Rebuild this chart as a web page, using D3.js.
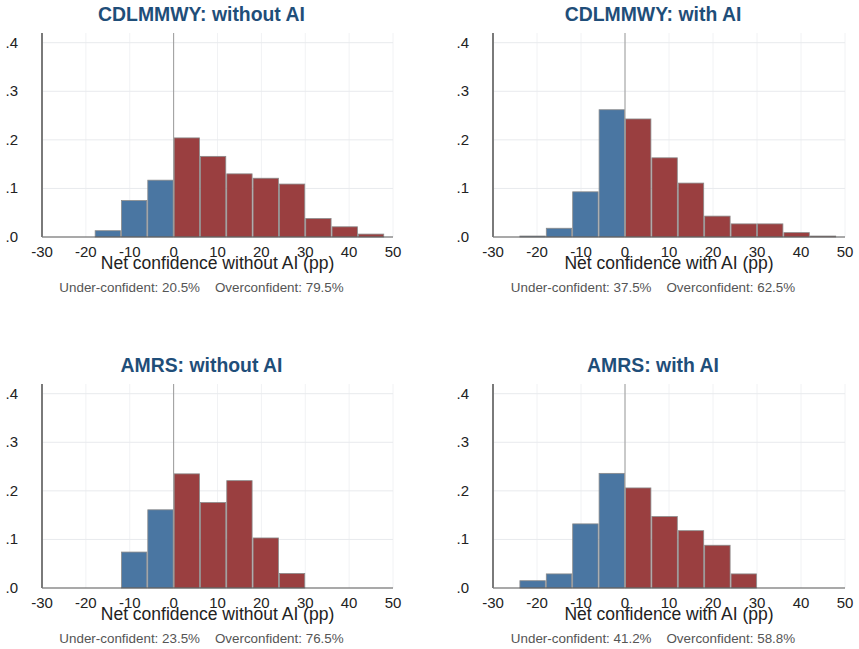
<!DOCTYPE html>
<html>
<head>
<meta charset="utf-8">
<script src="https://cdn.jsdelivr.net/npm/d3@7"></script>
<style>
  body { margin: 0; background: #fff; }
  svg { display: block; font-family: "Liberation Sans", Arial, sans-serif; }
</style>
</head>
<body>
<svg id="chart" width="859" height="649"></svg>
<script>
// bin edges shared by all panels (6 pp wide)
var binStart = [-30, -24, -18, -12, -6, 0, 6, 12, 18, 24, 30, 36, 42];
var binWidth = 6;

var titles = ["CDLMMWY: without AI", "CDLMMWY: with AI", "AMRS: without AI", "AMRS: with AI"];
var xTitles = ["Net confidence without AI (pp)", "Net confidence with AI (pp)",
               "Net confidence without AI (pp)", "Net confidence with AI (pp)"];
var notes = ["Under-confident: 20.5%    Overconfident: 79.5%",
             "Under-confident: 37.5%    Overconfident: 62.5%",
             "Under-confident: 23.5%    Overconfident: 76.5%",
             "Under-confident: 41.2%    Overconfident: 58.8%"];

// fraction per bin, following binStart
var cdlWithout = [0, 0, 0.013, 0.075, 0.117, 0.204, 0.166, 0.130, 0.121, 0.109, 0.038, 0.021, 0.006];
var cdlWith    = [0, 0.002, 0.018, 0.093, 0.262, 0.243, 0.163, 0.111, 0.043, 0.027, 0.027, 0.009, 0.002];
var amrsWithout= [0, 0, 0, 0.074, 0.161, 0.235, 0.176, 0.221, 0.103, 0.030, 0, 0, 0];
var amrsWith   = [0, 0.015, 0.029, 0.132, 0.236, 0.206, 0.147, 0.118, 0.088, 0.029, 0, 0, 0];
var allSeries = [cdlWithout, cdlWith, amrsWithout, amrsWith];

var xTicks = [-30, -20, -10, 0, 10, 20, 30, 40, 50];
var yTicks = [0, 0.1, 0.2, 0.3, 0.4];
var yLabels = [".0", ".1", ".2", ".3", ".4"];

var blue = "#4a76a2", red = "#9a3f40", titleColor = "#1f4e79";

var svg = d3.select("#chart");

var panels = [
  {left: 42, right: 393, base: 237},
  {left: 493, right: 845, base: 237},
  {left: 42, right: 393, base: 588},
  {left: 493, right: 845, base: 588}
];

panels.forEach(function (p, i) {
  var x = d3.scaleLinear().domain([-30, 50]).range([p.left, p.right]);
  var y = d3.scaleLinear().domain([0, 0.42]).range([p.base, p.base - 204]);
  var g = svg.append("g");
  var top = y(0.42);

  // grid
  g.selectAll(".vg").data(xTicks.slice(1)).enter().append("line")
    .attr("x1", d => x(d)).attr("x2", d => x(d))
    .attr("y1", top).attr("y2", p.base)
    .attr("stroke", "#f1f2f4").attr("stroke-width", 1);
  g.selectAll(".hg").data(yTicks.slice(1)).enter().append("line")
    .attr("x1", p.left).attr("x2", p.right)
    .attr("y1", d => y(d)).attr("y2", d => y(d))
    .attr("stroke", "#e8eaed").attr("stroke-width", 1);

  // bars
  var data = allSeries[i].map((v, k) => ({x0: binStart[k], v: v})).filter(d => d.v > 0);
  g.selectAll("rect").data(data).enter().append("rect")
    .attr("x", d => x(d.x0) + 0.5)
    .attr("width", d => x(d.x0 + binWidth) - x(d.x0) - 1)
    .attr("y", d => y(d.v))
    .attr("height", d => p.base - y(d.v))
    .attr("fill", d => d.x0 < 0 ? blue : red)
    .attr("stroke", "#8a8a8a").attr("stroke-width", 0.8);

  // zero reference line
  g.append("line")
    .attr("x1", x(0)).attr("x2", x(0))
    .attr("y1", top).attr("y2", p.base)
    .attr("stroke", "#9a9a9a").attr("stroke-width", 1);

  // axes lines
  g.append("line").attr("x1", p.left).attr("x2", p.right)
    .attr("y1", p.base).attr("y2", p.base)
    .attr("stroke", "#555").attr("stroke-width", 1.2);
  g.append("line").attr("x1", p.left).attr("x2", p.left)
    .attr("y1", top).attr("y2", p.base)
    .attr("stroke", "#7a7a7a").attr("stroke-width", 2);

  // tick labels
  g.selectAll(".xt").data(xTicks).enter().append("text")
    .attr("x", d => x(d)).attr("y", p.base + 20)
    .attr("text-anchor", "middle").attr("font-size", 15).attr("fill", "#222")
    .text(d => d);
  g.selectAll(".yt").data(yTicks).enter().append("text")
    .attr("x", p.left - 24).attr("y", d => y(d) + 5)
    .attr("text-anchor", "end").attr("font-size", 15).attr("fill", "#222")
    .text((d, k) => yLabels[k]);

  var mid = (p.left + p.right) / 2;
  g.append("text").attr("x", mid).attr("y", p.base + 32)
    .attr("text-anchor", "middle").attr("font-size", 17.5).attr("fill", "#222")
    .text(xTitles[i]);
  g.append("text").attr("x", mid - 16).attr("y", p.base + 55)
    .attr("text-anchor", "middle").attr("font-size", 13.4).attr("fill", "#555")
    .attr("xml:space", "preserve").style("white-space", "pre")
    .text(notes[i]);
  g.append("text").attr("x", mid - 16).attr("y", p.base - 216)
    .attr("text-anchor", "middle").attr("font-size", 19.4).attr("font-weight", "bold")
    .attr("fill", titleColor)
    .text(titles[i]);
});
</script>
</body>
</html>
